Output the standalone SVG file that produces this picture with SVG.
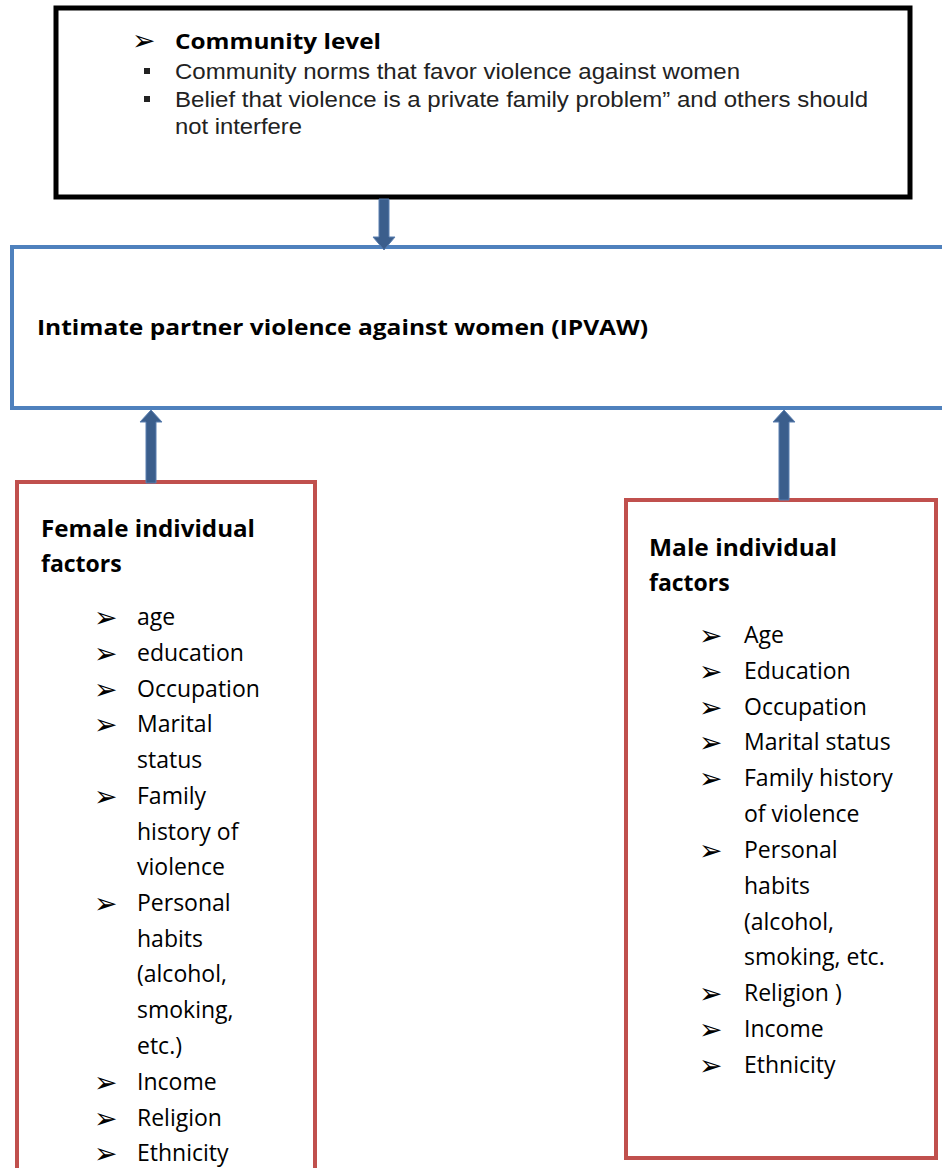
<svg xmlns="http://www.w3.org/2000/svg" width="942" height="1168" viewBox="0 0 942 1168">
<style>
.t{font-family:"Open Sans","Liberation Sans",sans-serif;font-size:23px;fill:#000}
.b{font-family:"Open Sans","Liberation Sans",sans-serif;font-weight:bold;fill:#000}
.a{font-family:"Liberation Sans",Arial,sans-serif;font-size:22px;fill:#222}
.bul{font-family:"DejaVu Sans",sans-serif;font-size:28px;fill:#000}
.arr{fill:#3B5E8C;stroke:#5A7FB0;stroke-width:1}
</style>
<rect width="942" height="1168" fill="#fff"/>
<g id="community">
<rect x="56" y="8" width="854" height="189" fill="#fff" stroke="#000" stroke-width="5"/>
<text class="bul" x="132" y="50">➢</text>
<text class="b" x="175" y="49" font-size="22" textLength="206" lengthAdjust="spacingAndGlyphs">Community level</text>
<rect x="144" y="68" width="6" height="6" fill="#222"/>
<text class="a" x="175" y="79" textLength="565" lengthAdjust="spacingAndGlyphs">Community norms that favor violence against women</text>
<rect x="144" y="96" width="6" height="6" fill="#222"/>
<text class="a" x="175" y="107" textLength="693" lengthAdjust="spacingAndGlyphs">Belief that violence is a private family problem” and others should</text>
<text class="a" x="175" y="134" textLength="127" lengthAdjust="spacingAndGlyphs">not interfere</text>
</g>
<g id="ipvaw">
<rect x="12" y="247" width="940" height="161" fill="#fff" stroke="#4F81BD" stroke-width="4"/>
<text class="b" x="37" y="335" font-size="22" textLength="611" lengthAdjust="spacingAndGlyphs">Intimate partner violence against women (IPVAW)</text>
</g>
<g id="female">
<rect x="17" y="482" width="298" height="720" fill="#fff" stroke="#C0504D" stroke-width="4"/>
<text class="b" x="41" y="537" font-size="23" textLength="214" lengthAdjust="spacingAndGlyphs">Female individual</text>
<text class="b" x="41" y="572" font-size="23">factors</text>
<g class="bul">
<text x="94" y="627">➢</text><text x="94" y="663">➢</text><text x="94" y="699">➢</text><text x="94" y="734">➢</text><text x="94" y="806">➢</text><text x="94" y="913">➢</text><text x="94" y="1092">➢</text><text x="94" y="1128">➢</text><text x="94" y="1163">➢</text>
</g>
<g class="t">
<text x="137" y="625">age</text>
<text x="137" y="661">education</text>
<text x="137" y="697">Occupation</text>
<text x="137" y="732">Marital</text>
<text x="137" y="768">status</text>
<text x="137" y="804">Family</text>
<text x="137" y="840">history of</text>
<text x="137" y="875">violence</text>
<text x="137" y="911">Personal</text>
<text x="137" y="947">habits</text>
<text x="137" y="982">(alcohol,</text>
<text x="137" y="1018">smoking,</text>
<text x="137" y="1054">etc.)</text>
<text x="137" y="1090">Income</text>
<text x="137" y="1126">Religion</text>
<text x="137" y="1161">Ethnicity</text>
</g>
</g>
<g id="male">
<rect x="626" y="500" width="310" height="658" fill="#fff" stroke="#C0504D" stroke-width="4"/>
<text class="b" x="649" y="556" font-size="23" textLength="188" lengthAdjust="spacingAndGlyphs">Male individual</text>
<text class="b" x="649" y="591" font-size="23">factors</text>
<g class="bul">
<text x="699" y="645">➢</text><text x="699" y="681">➢</text><text x="699" y="717">➢</text><text x="699" y="752">➢</text><text x="699" y="788">➢</text><text x="699" y="860">➢</text><text x="699" y="1003">➢</text><text x="699" y="1039">➢</text><text x="699" y="1075">➢</text>
</g>
<g class="t">
<text x="744" y="643">Age</text>
<text x="744" y="679">Education</text>
<text x="744" y="715">Occupation</text>
<text x="744" y="750">Marital status</text>
<text x="744" y="786">Family history</text>
<text x="744" y="822">of violence</text>
<text x="744" y="858">Personal</text>
<text x="744" y="894">habits</text>
<text x="744" y="930">(alcohol,</text>
<text x="744" y="965">smoking, etc.</text>
<text x="744" y="1001">Religion )</text>
<text x="744" y="1037">Income</text>
<text x="744" y="1073">Ethnicity</text>
</g>
</g>
<g id="connectors">
<polygon class="arr" points="379,199 389,199 389,237 395,237 384,250 373,237 379,237"/>
<polygon class="arr" points="146,483 156,483 156,422 162,422 151,410 140,422 146,422"/>
<polygon class="arr" points="779,500 789,500 789,422 795,422 784,410 773,422 779,422"/>
</g>
</svg>
